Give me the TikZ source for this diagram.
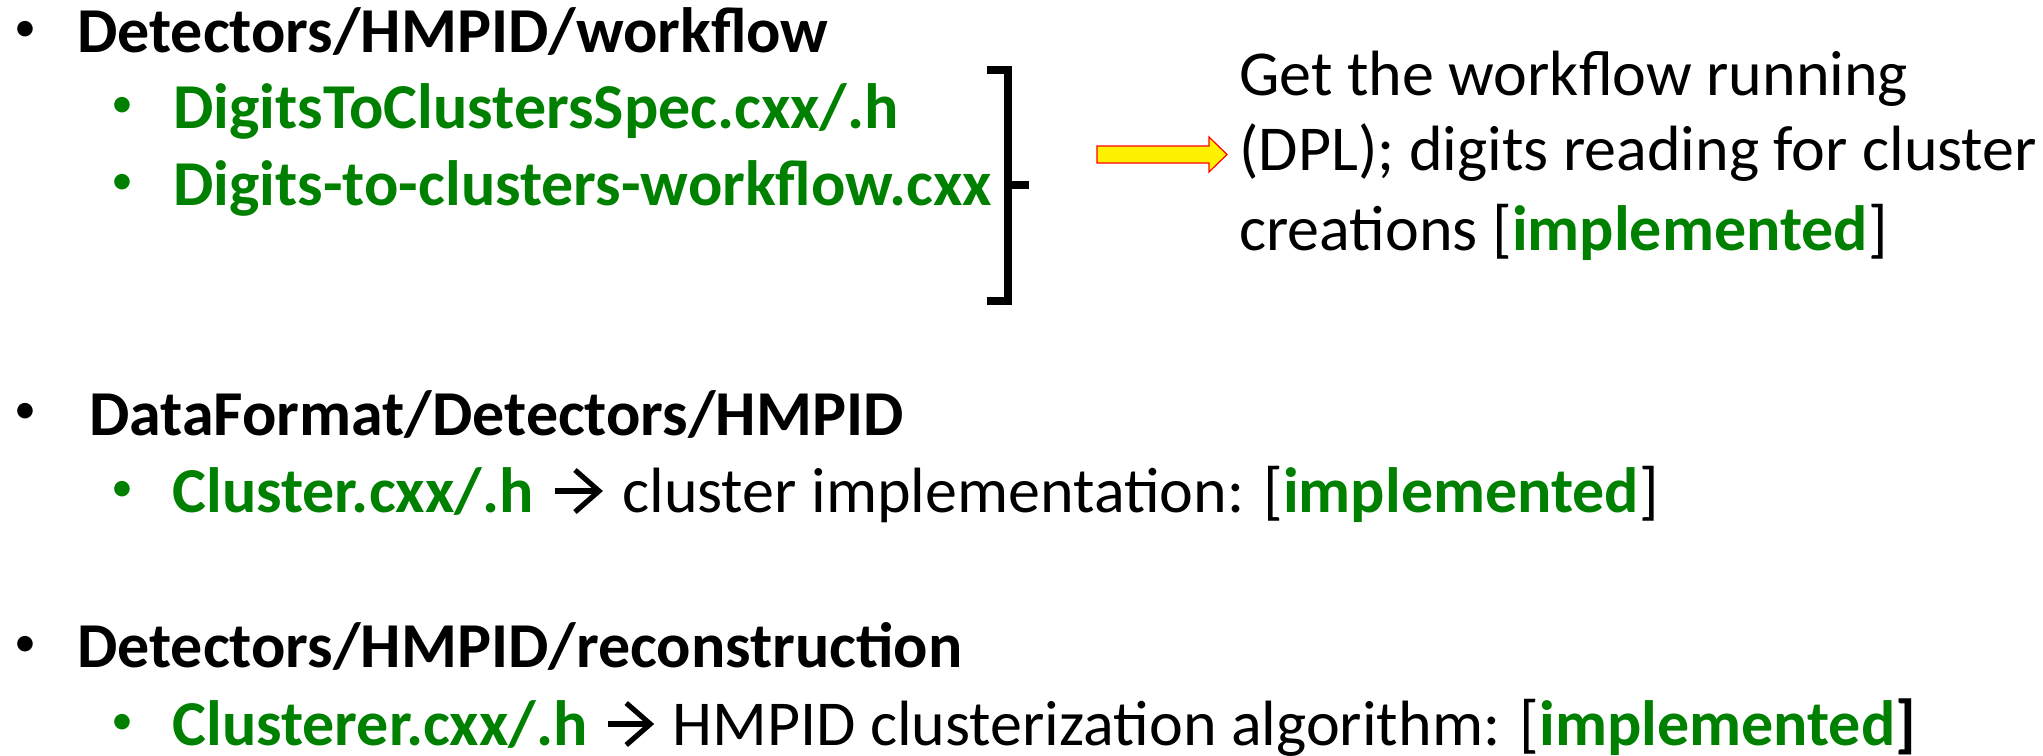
\documentclass[tikz,border=0pt]{standalone}
\usepackage{fontspec}
\setmainfont{Carlito}
\usetikzlibrary{positioning,arrows.meta}
\definecolor{filegreen}{RGB}{0,128,0}
\tikzset{
  txt/.style={anchor=base west, inner sep=0pt, font=\fontsize{32}{38}\selectfont},
  hdr/.style={txt, font=\fontsize{32}{38}\selectfont\bfseries},
  file/.style={hdr, text=filegreen},
  dot/.style={anchor=center, inner sep=0pt, font=\fontsize{22}{26}\selectfont},
  brace/.style={line width=4pt},
  impl arrow/.style={line width=2.6pt, -{Straight Barb[length=12pt,width=21pt]}},
}
\newcommand{\impl}{\textcolor{filegreen}{\bfseries implemented}}
\begin{document}
\begin{tikzpicture}[x=0.5pt,y=-0.5pt]
    \useasboundingbox (0,0) rectangle (2043,755);
    % workflow
    \node[dot] (b1) at (25,31) {•};
    \node[hdr] (wf) at (77,52) {Detectors/HMPID/workflow};
    \node[dot, text=filegreen] (b11) at (122,107) {•};
    \node[file] (spec) at (173,128) {DigitsToClustersSpec.cxx/.h};
    \node[dot, text=filegreen] (b12) at (122,184) {•};
    \node[file] (dtc) at (173,205) {Digits-to-clusters-workflow.cxx};
    \draw[brace] (987,70) -| (1007.5,301) -- (987,301);
    \draw[brace] (1007.5,185) -- (1029,185);
    \draw[draw=red, fill=yellow, line width=0.6pt] (1097,146) -- (1209,146) -- (1209,137)
      -- (1227,154.5) -- (1209,172) -- (1209,163) -- (1097,163) -- cycle;
    \node[txt] (get) at (1239,95) {Get the workflow running};
    \node[txt] (dpl) at (1239,170) {(DPL); digits reading for cluster};
    \node[txt] (cre) at (1239,250) {creations [\impl]};
    % data format
    \node[dot] (b2) at (25,413) {•};
    \node[hdr] (df) at (89,435) {DataFormat/Detectors/HMPID};
    \node[dot, text=filegreen] (b21) at (122,491) {•};
    \node[file] (clu) at (172,512) {Cluster.cxx/.h};
    \node[txt, right=44pt of clu.base east, anchor=base west] (clutxt) {cluster implementation: [\impl]};
    \draw[impl arrow] ([xshift=10.5pt,yshift=10.5pt]clu.base east) -- ([xshift=-9.5pt,yshift=10.5pt]clutxt.base west);
    % reconstruction
    \node[dot] (b3) at (25,646) {•};
    \node[hdr] (rec) at (77,667) {Detectors/HMPID/reconstruction};
    \node[dot, text=filegreen] (b31) at (122,724) {•};
    \node[file] (clr) at (172,745) {Clusterer.cxx/.h};
    \node[txt, right=42pt of clr.base east, anchor=base west] (clrtxt) {HMPID clusterization algorithm: [\impl\textbf{]}};
    \draw[impl arrow] ([xshift=10pt,yshift=10.5pt]clr.base east) -- ([xshift=-9pt,yshift=10.5pt]clrtxt.base west);
\end{tikzpicture}
\end{document}
